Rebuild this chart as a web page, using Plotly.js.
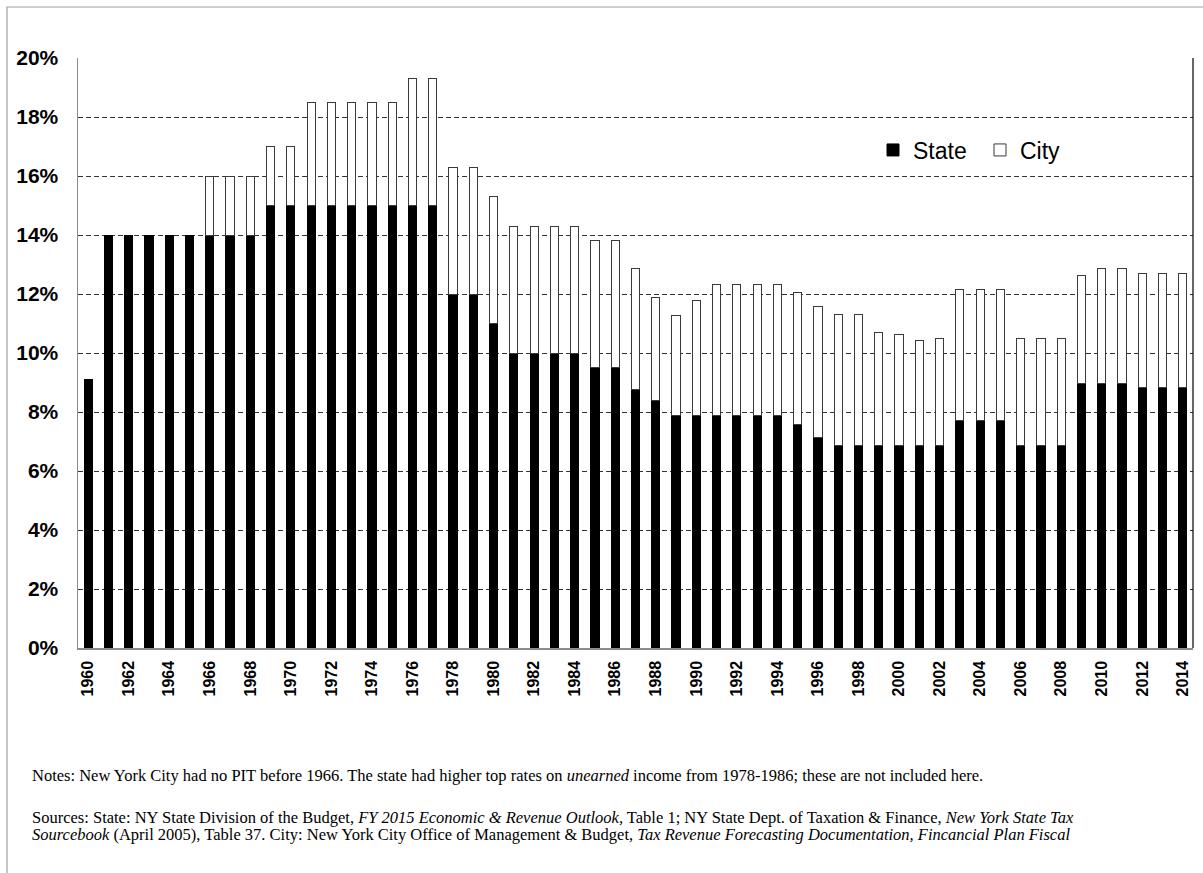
<!DOCTYPE html>
<html>
<head>
<meta charset="utf-8">
<script src="https://cdn.plot.ly/plotly-3.0.1.min.js"></script>
<style>
html,body{margin:0;padding:0;background:#fff;}
#chart{width:1203px;height:873px;}
</style>
</head>
<body>
<div id="chart"></div>
<script>
// Top personal income tax rates, New York State and New York City (percent)
const years = [1960,1961,1962,1963,1964,1965,1966,1967,1968,1969,
               1970,1971,1972,1973,1974,1975,1976,1977,1978,1979,
               1980,1981,1982,1983,1984,1985,1986,1987,1988,1989,
               1990,1991,1992,1993,1994,1995,1996,1997,1998,1999,
               2000,2001,2002,2003,2004,2005,2006,2007,2008,2009,
               2010,2011,2012,2013,2014];

const stateRate = [9.1,14,14,14,14,14,14,14,14,15,
                   15,15,15,15,15,15,15,15,12,12,
                   11,10,10,10,10,9.5,9.5,8.75,8.375,7.875,
                   7.875,7.875,7.875,7.875,7.875,7.59,7.125,6.85,6.85,6.85,
                   6.85,6.85,6.85,7.7,7.7,7.7,6.85,6.85,6.85,8.97,
                   8.97,8.97,8.82,8.82,8.82];

const cityRate = [null,null,null,null,null,null,2,2,2,2,
                  2,3.5,3.5,3.5,3.5,3.5,4.3,4.3,4.3,4.3,
                  4.3,4.3,4.3,4.3,4.3,4.3,4.3,4.1,3.5,3.4,
                  3.91,4.46,4.46,4.46,4.46,4.46,4.46,4.46,4.46,3.83,
                  3.77,3.59,3.65,4.45,4.45,4.45,3.65,3.65,3.65,3.65,
                  3.88,3.88,3.87,3.87,3.87];

const seriesNames = ["State", "City"];
const yTickSuffix = "%";

const notesText = "Notes: New York City had no PIT before 1966. The state had higher top rates on <i>unearned</i> income from 1978-1986; these are not included here.";
const sourcesLine1 = "Sources: State: NY State Division of the Budget, <i>FY 2015 Economic &amp; Revenue Outlook,</i> Table 1; NY State Dept. of Taxation &amp; Finance, <i>New York State Tax</i>";
const sourcesLine2 = "<i>Sourcebook</i> (April 2005), Table 37. City: New York City Office of Management &amp; Budget, <i>Tax Revenue Forecasting Documentation, Fincancial Plan Fiscal</i>";

// pixel geometry helpers (plot area: x 78..1193, y 58..648)
const L = 78, R = 1193, T = 58, B = 648;
const px = x => (x - L) / (R - L);
const py = y => (B - y) / (B - T);

const traces = [
  {
    type: "bar", name: seriesNames[0], x: years, y: stateRate,
    marker: {color: "#000000", line: {color: "#000000", width: 1}},
    hoverinfo: "x+y"
  },
  {
    type: "bar", name: seriesNames[1], x: years, y: cityRate,
    marker: {color: "#ffffff", line: {color: "#3a3a3a", width: 1}},
    hoverinfo: "x+y"
  }
];

const serif = "Liberation Serif, Times New Roman, serif";
const sans = "Liberation Sans, Arial, sans-serif";

const layout = {
  width: 1203, height: 873,
  margin: {l: L, r: 1203 - R, t: T, b: 873 - B, pad: 0},
  paper_bgcolor: "#ffffff", plot_bgcolor: "#ffffff",
  barmode: "stack", bargap: 0.6,
  font: {family: sans, color: "#000"},
  showlegend: true,
  legend: {
    orientation: "h", x: px(873), xanchor: "left", y: py(150), yanchor: "middle",
    font: {size: 23, family: sans, color: "#000"},
    bgcolor: "rgba(0,0,0,0)", borderwidth: 0, traceorder: "normal",
    entrywidth: 62, entrywidthmode: "pixels"
  },
  xaxis: {
    type: "linear", range: [1959.5, 2014.5],
    tickmode: "linear", tick0: 1960, dtick: 2,
    tickangle: -90, ticks: "", showgrid: false, zeroline: false,
    showline: true, linecolor: "#8c8c8c", linewidth: 1.5,
    tickfont: {size: 16, family: sans, weight: "bold", color: "#000"},
    ticklabelstandoff: 5, fixedrange: true
  },
  yaxis: {
    range: [0, 20], tickmode: "linear", tick0: 0, dtick: 2,
    ticksuffix: yTickSuffix, ticks: "", zeroline: false,
    showgrid: true, gridcolor: "#333333", gridwidth: 1, griddash: "5px,3px",
    showline: true, linecolor: "#8c8c8c", linewidth: 1.5,
    tickfont: {size: 21, family: sans, weight: "bold", color: "#000"},
    ticklabelstandoff: 14, fixedrange: true
  },
  shapes: [
    {type: "line", xref: "paper", yref: "paper", x0: 1, x1: 1, y0: 0, y1: 1,
     line: {color: "#000000", width: 1.2}},
    {type: "rect", xref: "paper", yref: "paper",
     x0: px(7), x1: px(1220), y0: py(890), y1: py(7),
     line: {color: "#a0a0a0", width: 1.2}, fillcolor: "rgba(0,0,0,0)", layer: "below"}
  ],
  annotations: [
    {xref: "paper", yref: "paper", x: px(30), y: py(775), xanchor: "left", yanchor: "middle",
     text: notesText, showarrow: false, align: "left",
     font: {family: serif, size: 16.5, color: "#000"}},
    {xref: "paper", yref: "paper", x: px(30), y: py(817), xanchor: "left", yanchor: "middle",
     text: sourcesLine1, showarrow: false, align: "left",
     font: {family: serif, size: 16.5, color: "#000"}},
    {xref: "paper", yref: "paper", x: px(30), y: py(834), xanchor: "left", yanchor: "middle",
     text: sourcesLine2, showarrow: false, align: "left",
     font: {family: serif, size: 16.5, color: "#000"}}
  ]
};

Plotly.newPlot("chart", traces, layout, {displayModeBar: false, staticPlot: true});
</script>
</body>
</html>
